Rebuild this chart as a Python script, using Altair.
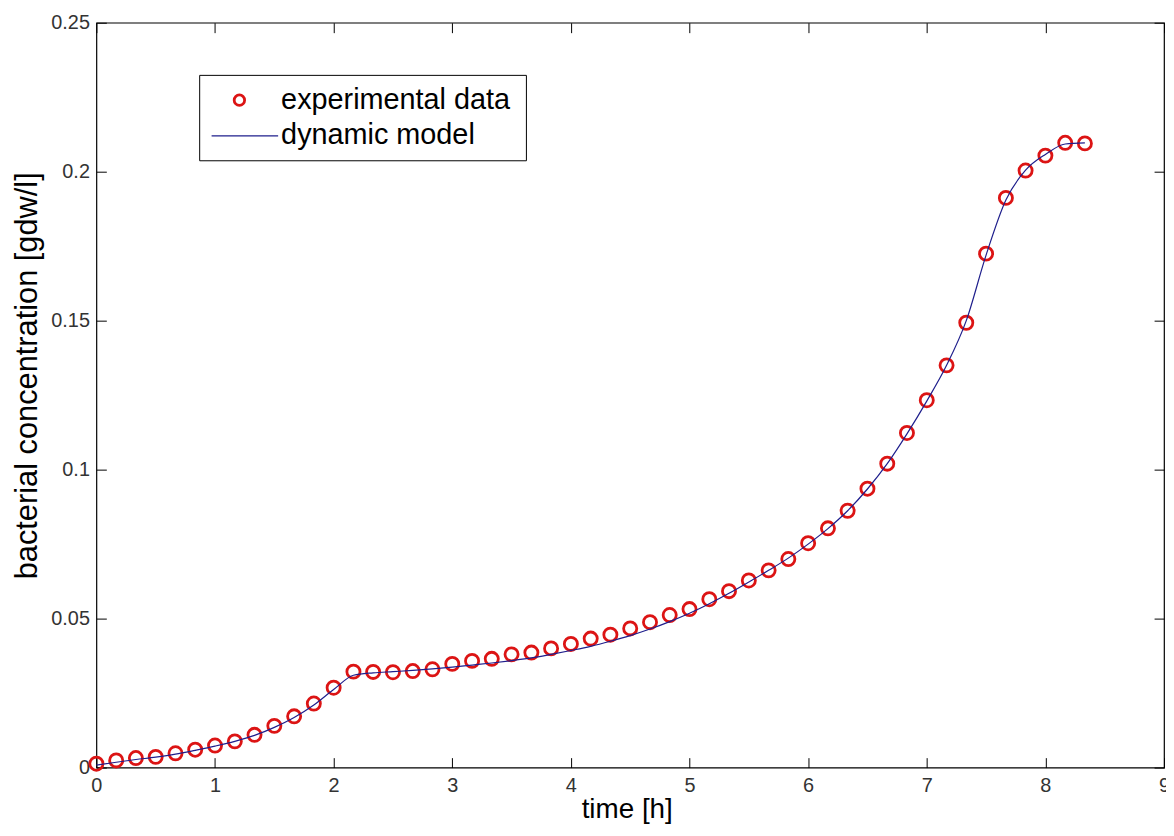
import altair as alt
import pandas as pd

# ---- data ----
time_h = [0.0, 0.167, 0.333, 0.5, 0.667, 0.833,
          1.0, 1.167, 1.333, 1.5, 1.667, 1.833,
          2.0, 2.167, 2.333, 2.5, 2.667, 2.833,
          3.0, 3.167, 3.333, 3.5, 3.667, 3.833,
          4.0, 4.167, 4.333, 4.5, 4.667, 4.833,
          5.0, 5.167, 5.333, 5.5, 5.667, 5.833,
          6.0, 6.167, 6.333, 6.5, 6.667, 6.833,
          7.0, 7.167, 7.333, 7.5, 7.667, 7.833,
          8.0, 8.167, 8.333]

experimental = [0.0013, 0.0024, 0.0032, 0.0036, 0.0048, 0.0060,
                0.0074, 0.0088, 0.0110, 0.0140, 0.0172, 0.0215,
                0.0268, 0.0322, 0.0321, 0.0320, 0.0324, 0.0330,
                0.0348, 0.0358, 0.0365, 0.0380, 0.0386, 0.0400,
                0.0415, 0.0433, 0.0446, 0.0467, 0.0488, 0.0512,
                0.0532, 0.0565, 0.0592, 0.0628, 0.0662, 0.0700,
                0.0753, 0.0803, 0.0862, 0.0936, 0.1020, 0.1123,
                0.1233, 0.1350, 0.1493, 0.1725, 0.1912, 0.2004,
                0.2054, 0.2097, 0.2095]

model = [0.0008, 0.0018, 0.0027, 0.0035, 0.0045, 0.0058,
         0.0072, 0.0088, 0.0108, 0.0135, 0.0168, 0.0210,
         0.0262, 0.0310, 0.0318, 0.0322, 0.0326, 0.0331,
         0.0337, 0.0344, 0.0351, 0.0359, 0.0368, 0.0380,
         0.0393, 0.0407, 0.0424, 0.0443, 0.0465, 0.0490,
         0.0518, 0.0550, 0.0585, 0.0623, 0.0662, 0.0703,
         0.0750, 0.0802, 0.0862, 0.0935, 0.1020, 0.1120,
         0.1230, 0.1350, 0.1500, 0.1720, 0.1905, 0.2005,
         0.2058, 0.2093, 0.2097]

x_ticks = [0, 1, 2, 3, 4, 5, 6, 7, 8, 9]
y_ticks = [0, 0.05, 0.1, 0.15, 0.2, 0.25]

legend_labels = ["experimental data", "dynamic model"]

x_title = "time [h]"
y_title = "bacterial concentration [gdw/l]"

# ---- styling ----
RED = "#dc1414"
NAVY = "#1e1e8c"
FONT = "Liberation Sans"
W, H = 1075, 750

df = pd.DataFrame({"time": time_h, "exp": experimental, "model": model})
one = pd.DataFrame({"a": [0]})

xscale = alt.Scale(domain=[0, 9], nice=False, zero=False)
yscale = alt.Scale(domain=[0, 0.25], nice=False)

common = dict(grid=False, domain=False, tickSize=10, offset=-10,
              tickColor="black", tickWidth=1, labelFlush=False,
              labelOverlap=False, labelFont=FONT, labelFontSize=20,
              labelColor="#333333", format="~g")

x_bottom = alt.Axis(orient="bottom", values=x_ticks, labelPadding=8,
                    title=x_title, titleFont=FONT, titleFontSize=28,
                    titleFontWeight="normal", titleColor="black",
                    titleX=534, titleY=60, titleBaseline="alphabetic",
                    **common)
y_left = alt.Axis(orient="left", values=y_ticks, labelPadding=7,
                  title=y_title, titleFont=FONT, titleFontSize=31,
                  titleFontWeight="normal", titleColor="black",
                  titleX=-70, titleY=355, titleBaseline="alphabetic",
                  **common)
x_top = alt.Axis(orient="top", values=x_ticks, labels=False, title=None, **common)
y_right = alt.Axis(orient="right", values=y_ticks, labels=False, title=None, **common)

line = alt.Chart(df).mark_line(color=NAVY, strokeWidth=1.2, interpolate="monotone").encode(
    x=alt.X("time:Q", scale=xscale, axis=x_bottom),
    y=alt.Y("model:Q", scale=yscale, axis=y_left),
)

points = alt.Chart(df).mark_point(shape="circle", filled=False, color=RED,
                                   size=175, strokeWidth=2.8, opacity=1).encode(
    x=alt.X("time:Q", scale=xscale, axis=x_top),
    y=alt.Y("exp:Q", scale=yscale, axis=y_right),
)

legend_box = alt.Chart(one).mark_rect(fill="white", stroke="black", strokeWidth=1).encode(
    x=alt.value(104), x2=alt.value(433), y=alt.value(53), y2=alt.value(139))
legend_pt = alt.Chart(one).mark_point(shape="circle", filled=False, color=RED,
                                      size=110, strokeWidth=2.8, opacity=1).encode(
    x=alt.value(144), y=alt.value(78))
legend_ln = alt.Chart(one).mark_rule(color=NAVY, strokeWidth=1.2).encode(
    x=alt.value(116), x2=alt.value(183), y=alt.value(114))
legend_t1 = alt.Chart(one).mark_text(align="left", baseline="alphabetic", font=FONT,
                                     fontSize=29, color="black").encode(
    x=alt.value(186), y=alt.value(87), text=alt.value(legend_labels[0]))
legend_t2 = alt.Chart(one).mark_text(align="left", baseline="alphabetic", font=FONT,
                                     fontSize=29, color="black").encode(
    x=alt.value(186), y=alt.value(122), text=alt.value(legend_labels[1]))

chart = alt.layer(
    points, line, legend_box, legend_pt, legend_ln, legend_t1, legend_t2
).resolve_axis(x="independent", y="independent").properties(
    width=W, height=H,
    padding={"left": 89, "top": 12, "right": 2, "bottom": 56},
    autosize=alt.AutoSizeParams(type="none"),
    background="white",
).configure_view(stroke="black", strokeWidth=1.2)

chart.save("out.html", embed_options={"renderer": "svg", "actions": False})
